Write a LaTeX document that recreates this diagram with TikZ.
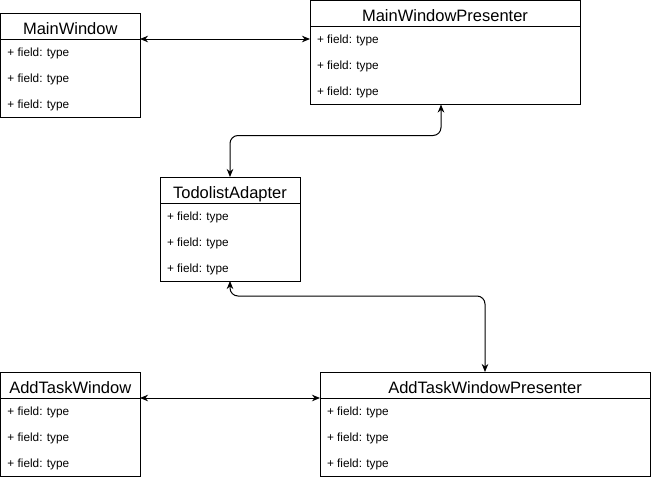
\documentclass[tikz,border=0pt]{standalone}
\usepackage{fontspec}
\setmainfont{Liberation Sans}
\usetikzlibrary{arrows.meta,calc}
\tikzset{
  hdr/.style={draw, line width=1pt, inner sep=0pt, outer sep=0pt, minimum height=26pt},
  ttl/.style={inner sep=0pt, outer sep=0pt, anchor=base, font=\fontsize{16.5}{18}\selectfont},
  bodybox/.style={draw, line width=1pt, inner sep=0pt, outer sep=0pt, minimum height=78pt},
  fld/.style={inner sep=0pt, outer sep=0pt, anchor=base west, font=\fontsize{11.8}{14}\selectfont},
  conn/.style={line width=1pt, rounded corners=8pt,
    {Stealth[length=8pt,width=6.5pt,inset=2.5pt]}-{Stealth[length=8pt,width=6.5pt,inset=2.5pt]}}
}
\newcommand\umlclass[5]{%
  \node[hdr, minimum width=#4pt, anchor=north west] (#1) at (#2,#3) {};
  \node[ttl] (#1t) at ([yshift=-21pt]#1.north) {#5};
  \node[bodybox, minimum width=#4pt, anchor=north west] (#1b) at (#1.south west) {};
  \node[fld] (#1f1) at ([xshift=7pt,yshift=-17pt]#1b.north west) {+ field: type};
  \node[fld] (#1f2) at ([xshift=7pt,yshift=-43pt]#1b.north west) {+ field: type};
  \node[fld] (#1f3) at ([xshift=7pt,yshift=-69pt]#1b.north west) {+ field: type};
}
\begin{document}
\begin{tikzpicture}[x={(1pt,0pt)}, y={(0pt,-1pt)}]
\useasboundingbox (0,0) rectangle (651,480);
\umlclass{mw}{0.5}{13}{139.5}{MainWindow}
\umlclass{mwp}{310}{0.5}{270}{MainWindowPresenter}
\umlclass{td}{160}{177}{140}{TodolistAdapter}
\umlclass{atw}{0.5}{372}{139.5}{AddTaskWindow}
\umlclass{atwp}{320}{372}{330}{AddTaskWindowPresenter}
\draw[conn] (mw.south east) -- (mw.south east -| mwpb.west);
\draw[conn] (atw.south east) -- (atwp.south west);
\draw[conn] ([xshift=-4pt]mwpb.south) -- ++(0,31) -| (td.north);
\draw[conn] (tdb.south) -- ++(0,15) -| (atwp.north);
\end{tikzpicture}
\end{document}
